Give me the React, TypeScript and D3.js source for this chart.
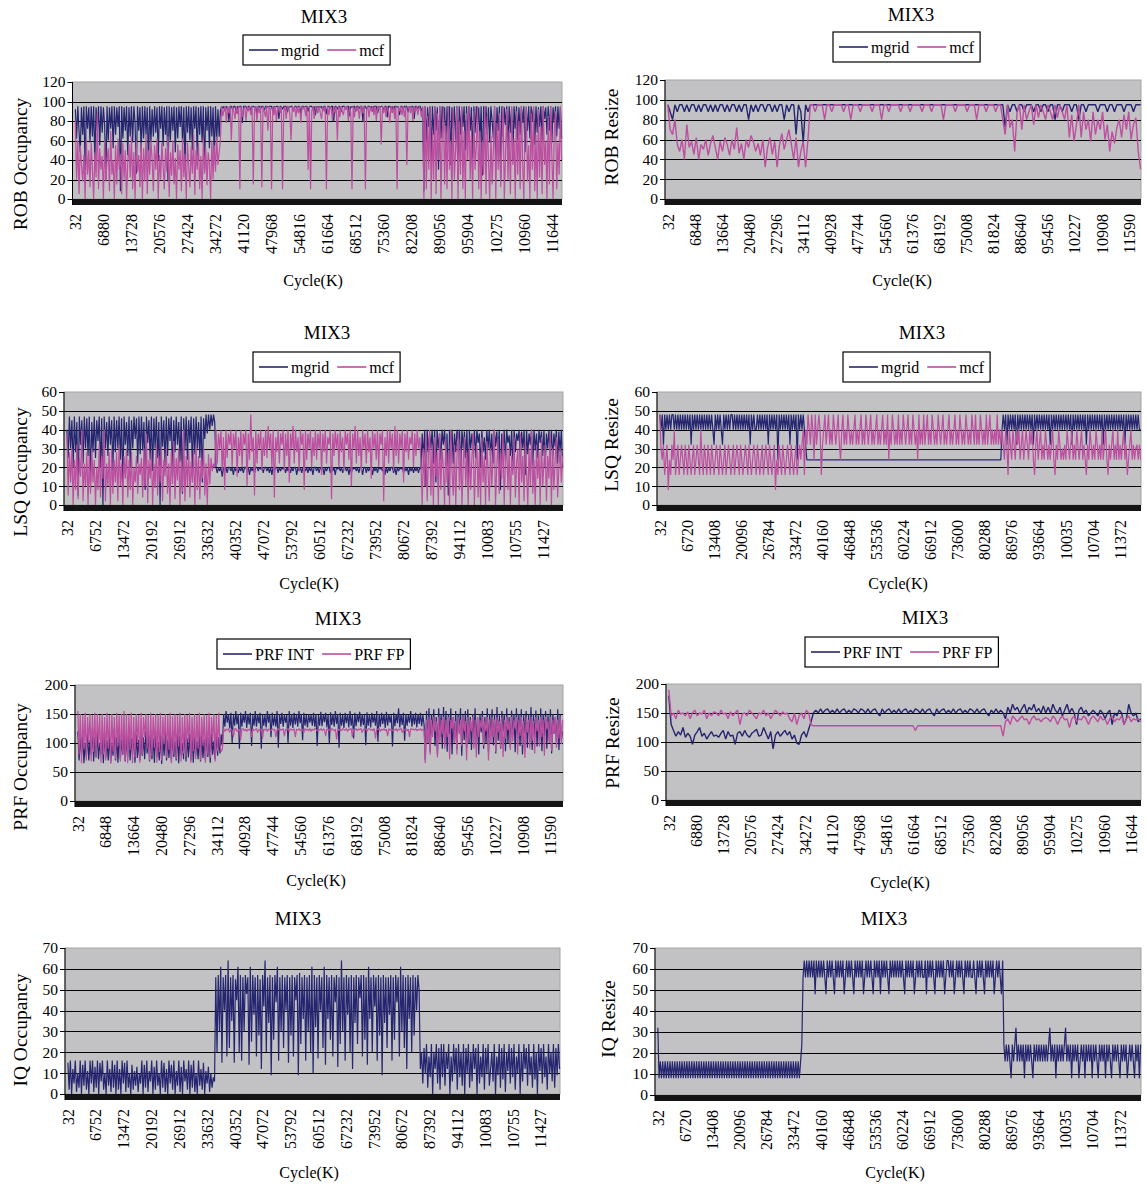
import * as d3 from "d3";
import React, { useEffect, useRef } from "react";

// x tick label sets (Excel truncates six digit cycle counts to 5 chars)
const ticksA = ["32", "6880", "13728", "20576", "27424", "34272", "41120", "47968", "54816", "61664", "68512", "75360", "82208", "89056", "95904", "10275", "10960", "11644"];
const ticksB = ["32", "6848", "13664", "20480", "27296", "34112", "40928", "47744", "54560", "61376", "68192", "75008", "81824", "88640", "95456", "10227", "10908", "11590"];
const ticksC = ["32", "6752", "13472", "20192", "26912", "33632", "40352", "47072", "53792", "60512", "67232", "73952", "80672", "87392", "94112", "10083", "10755", "11427"];
const ticksD = ["32", "6720", "13408", "20096", "26784", "33472", "40160", "46848", "53536", "60224", "66912", "73600", "80288", "86976", "93664", "10035", "10704", "11372"];

// samples are evenly spread over the whole run (cycles, K)
const TOTAL_CYCLES = 118800;

const robOccMgrid = [
  92, 62, 95, 70, 48, 94, 66, 95, 30, 95, 72, 94, 58, 95, 64, 95, 40, 94, 70, 95,
  55, 95, 68, 94, 76, 20, 95, 60, 94, 72, 95, 52, 95, 66, 94, 74, 95, 8, 95, 62,
  94, 70, 95, 45, 94, 64, 95, 58, 95, 78, 26, 95, 70, 94, 48, 95, 62, 95, 66, 94,
  36, 95, 58, 92, 64, 95, 68, 94, 40, 95, 72, 95, 54, 94, 66, 95, 18, 95, 60, 94,
  70, 95, 48, 94, 62, 95, 74, 95, 56, 94, 34, 95, 68, 95, 60, 94, 50, 95, 72, 95,
  44, 94, 66, 95, 58, 95, 30, 94, 70, 95, 52, 95, 64, 94, 42, 95, 60, 92, 64, 90,
  95, 93, 95, 90, 95, 94, 80, 95, 95, 92, 95, 95, 88, 95, 94, 95, 95, 78, 95, 95,
  95, 92, 95, 95, 90, 95, 95, 94, 95, 86, 95, 95, 93, 95, 95, 91, 95, 95, 94, 95,
  95, 95, 90, 95, 94, 95, 95, 82, 95, 95, 92, 95, 95, 95, 89, 95, 94, 95, 95, 90,
  95, 95, 93, 95, 95, 88, 95, 95, 94, 95, 95, 90, 95, 95, 95, 92, 95, 86, 95, 94,
  95, 94, 95, 91, 95, 95, 87, 95, 95, 93, 95, 95, 80, 95, 95, 92, 95, 95, 89, 95,
  95, 95, 92, 95, 95, 85, 95, 94, 95, 95, 90, 95, 95, 93, 95, 95, 79, 95, 95, 92,
  95, 95, 94, 95, 90, 95, 95, 95, 88, 95, 94, 95, 95, 91, 95, 95, 84, 95, 95, 93,
  95, 90, 95, 95, 94, 95, 86, 95, 95, 92, 95, 95, 95, 89, 95, 94, 95, 95, 82, 95,
  95, 93, 95, 95, 90, 94, 8, 95, 60, 94, 74, 95, 40, 95, 66, 95, 70, 94, 30, 95,
  62, 95, 78, 94, 55, 95, 68, 95, 35, 94, 72, 95, 60, 95, 18, 95, 66, 94, 74, 95,
  50, 95, 64, 95, 70, 94, 42, 95, 68, 95, 76, 94, 60, 95, 24, 95, 72, 95, 66, 94,
  58, 95, 80, 62, 95, 45, 94, 70, 95, 20, 95, 64, 94, 76, 95, 52, 95, 68, 94, 40,
  95, 72, 95, 60, 94, 66, 95, 78, 95, 48, 94, 70, 95, 62, 95, 80, 94, 56, 95, 68,
  94, 74, 95, 60, 95, 82, 94, 66, 95, 70, 95, 58, 94, 78, 95, 64, 95, 72, 94, 62,
];
const robOccMcf = [
  80, 20, 60, 5, 55, 35, 18, 45, 0, 62, 25, 50, 12, 58, 30, 0, 48, 22, 88, 10,
  52, 30, 44, 0, 60, 18, 40, 52, 8, 70, 25, 40, 0, 55, 15, 62, 30, 46, 5, 58,
  20, 50, 0, 38, 56, 22, 64, 10, 48, 0, 60, 28, 45, 12, 58, 0, 52, 18, 66, 5,
  50, 25, 60, 40, 8, 55, 30, 62, 0, 45, 20, 58, 35, 10, 52, 28, 64, 2, 48, 24,
  60, 15, 42, 0, 56, 30, 50, 8, 62, 22, 46, 0, 58, 34, 12, 54, 26, 66, 4, 50,
  30, 58, 10, 44, 0, 62, 26, 52, 14, 48, 36, 0, 60, 20, 55, 28, 64, 35, 48, 60,
  95, 85, 92, 95, 78, 95, 88, 95, 60, 95, 90, 82, 95, 87, 95, 10, 95, 84, 92, 95,
  80, 95, 90, 95, 86, 95, 15, 92, 95, 80, 95, 88, 95, 12, 95, 90, 84, 95, 70, 95,
  92, 10, 95, 86, 95, 80, 94, 95, 88, 95, 10, 90, 95, 82, 95, 95, 87, 60, 95, 90,
  95, 84, 95, 88, 95, 78, 95, 92, 95, 85, 95, 30, 95, 10, 90, 95, 82, 95, 94, 88,
  95, 88, 82, 95, 90, 95, 10, 95, 86, 95, 92, 80, 95, 88, 95, 60, 95, 84, 95, 90,
  86, 95, 92, 95, 80, 95, 88, 10, 95, 84, 95, 90, 95, 82, 95, 95, 88, 95, 10, 92,
  95, 84, 95, 90, 95, 86, 95, 80, 95, 92, 95, 56, 95, 88, 95, 84, 95, 90, 78, 95,
  88, 95, 82, 95, 10, 95, 90, 95, 86, 95, 84, 95, 35, 92, 95, 88, 95, 80, 95, 90,
  95, 86, 95, 92, 84, 95, 0, 95, 10, 85, 30, 95, 0, 70, 20, 95, 5, 88, 40, 95,
  0, 60, 95, 15, 75, 10, 95, 30, 60, 0, 92, 20, 50, 95, 0, 80, 25, 95, 10, 70,
  0, 88, 40, 95, 20, 65, 0, 90, 30, 55, 95, 10, 70, 0, 60, 25, 95, 5, 85, 40,
  0, 65, 15, 50, 95, 0, 78, 30, 88, 12, 60, 95, 0, 45, 92, 20, 70, 5, 95, 35,
  62, 0, 90, 25, 80, 10, 95, 40, 0, 72, 95, 18, 55, 0, 88, 30, 95, 8, 66, 0,
  92, 22, 75, 5, 95, 35, 60, 0, 85, 15, 95, 45, 0, 70, 90, 10, 58, 25, 95, 40,
];

const robResizeMgrid = [
  95, 88, 80, 95, 88, 95, 95, 88, 95, 88, 95, 95, 88, 95, 88, 95, 95, 88, 95, 88,
  95, 88, 95, 95, 88, 95, 88, 95, 95, 88, 95, 88, 95, 95, 80, 95, 88, 95, 88, 95,
  95, 88, 95, 95, 88, 95, 88, 95, 95, 80, 95, 88, 95, 95, 65, 95, 88, 57, 95, 88,
  95, 95, 95, 95, 95, 95, 95, 95, 95, 95, 95, 95, 95, 95, 95, 95, 95, 95, 95, 95,
  95, 95, 95, 95, 95, 95, 95, 95, 95, 95, 95, 95, 95, 95, 95, 95, 95, 95, 95, 95,
  95, 95, 95, 95, 95, 95, 95, 95, 95, 95, 95, 95, 95, 95, 95, 95, 95, 95, 95, 95,
  95, 95, 95, 95, 95, 95, 95, 95, 95, 95, 95, 95, 95, 95, 95, 95, 95, 95, 95, 95,
  95, 95, 72, 95, 88, 95, 95, 88, 95, 95, 88, 95, 95, 95, 88, 95, 95, 88, 95, 95,
  88, 95, 95, 80, 95, 95, 88, 95, 95, 95, 88, 95, 95, 80, 95, 95, 88, 95, 95, 95,
  95, 88, 95, 95, 95, 88, 95, 95, 88, 95, 95, 95, 88, 95, 95, 95, 88, 95, 95, 95,
];
const robResizeMcf = [
  95, 70, 65, 80, 55, 48, 60, 40, 75, 52, 58, 45, 62, 40, 55, 50, 60, 44, 56, 64,
  52, 40, 58, 48, 62, 55, 44, 60, 50, 72, 46, 56, 40, 60, 52, 64, 58, 48, 56, 44,
  60, 32, 52, 62, 45, 58, 32, 54, 66, 50, 60, 70, 55, 40, 62, 32, 48, 58, 32, 60,
  95, 95, 88, 95, 95, 95, 80, 95, 95, 88, 95, 95, 95, 95, 88, 95, 95, 80, 95, 95,
  95, 88, 95, 95, 95, 95, 88, 95, 95, 95, 80, 95, 95, 88, 95, 95, 95, 95, 88, 95,
  95, 95, 88, 95, 95, 95, 95, 88, 95, 95, 95, 88, 95, 95, 95, 95, 80, 95, 95, 95,
  95, 88, 95, 95, 95, 95, 88, 95, 95, 95, 80, 95, 95, 95, 88, 95, 95, 95, 88, 95,
  95, 80, 65, 95, 72, 80, 48, 88, 95, 70, 95, 80, 88, 95, 75, 95, 82, 95, 88, 80,
  95, 88, 80, 95, 82, 95, 88, 80, 95, 62, 85, 58, 75, 95, 62, 88, 70, 80, 58, 88,
  65, 80, 70, 88, 60, 75, 48, 68, 56, 72, 80, 62, 85, 70, 88, 60, 75, 82, 48, 30,
];

const lsqOccMgrid = [
  40, 25, 47, 30, 45, 20, 47, 28, 44, 5, 47, 32, 45, 22, 47, 30, 46, 26, 47, 12,
  44, 28, 47, 25, 45, 34, 47, 20, 46, 0, 47, 30, 44, 26, 47, 32, 45, 18, 47, 28,
  45, 30, 47, 24, 46, 10, 47, 32, 44, 26, 47, 20, 45, 30, 47, 35, 46, 22, 47, 27,
  47, 29, 44, 8, 47, 33, 45, 24, 47, 18, 46, 30, 47, 25, 44, 0, 47, 31, 45, 21,
  47, 26, 46, 34, 47, 15, 45, 28, 47, 32, 44, 23, 47, 6, 46, 29, 47, 24, 45, 33,
  47, 19, 46, 27, 47, 30, 44, 25, 47, 12, 46, 35, 48, 38, 48, 40, 48, 42, 48, 44,
  20, 17, 20, 18, 20, 15, 20, 18, 20, 17, 20, 20, 18, 20, 16, 20, 18, 20, 17, 20,
  18, 20, 17, 20, 20, 18, 20, 16, 20, 18, 20, 17, 20, 20, 18, 20, 19, 20, 17, 20,
  20, 18, 20, 17, 20, 16, 20, 18, 20, 20, 17, 20, 18, 20, 19, 20, 17, 20, 18, 20,
  17, 20, 18, 20, 20, 16, 20, 18, 20, 17, 20, 20, 18, 20, 17, 20, 18, 20, 16, 20,
  20, 18, 20, 17, 20, 19, 20, 16, 20, 18, 20, 20, 17, 20, 18, 20, 16, 20, 19, 20,
  18, 20, 17, 20, 20, 18, 20, 16, 20, 17, 20, 19, 20, 18, 20, 17, 20, 20, 16, 20,
  20, 17, 20, 18, 20, 20, 16, 20, 18, 20, 17, 20, 19, 20, 18, 20, 16, 20, 17, 20,
  18, 20, 20, 17, 20, 16, 20, 18, 20, 19, 20, 17, 20, 18, 20, 16, 20, 18, 20, 17,
  20, 18, 20, 17, 20, 19, 38, 25, 40, 10, 40, 28, 38, 30, 40, 22, 40, 12, 40, 30,
  38, 24, 40, 32, 40, 26, 38, 5, 40, 30, 40, 22, 38, 28, 40, 34, 40, 18, 40, 30,
  39, 25, 40, 12, 40, 30, 38, 28, 40, 25, 40, 33, 38, 20, 40, 28, 36, 24, 40, 30,
  40, 26, 38, 22, 40, 31, 39, 27, 40, 8, 38, 29, 40, 23, 40, 33, 37, 26, 40, 19,
  40, 28, 38, 34, 40, 24, 39, 30, 40, 16, 40, 27, 38, 32, 40, 21, 40, 29, 38, 25,
  40, 33, 39, 26, 40, 20, 38, 30, 40, 27, 40, 24, 38, 31, 40, 22, 39, 28, 40, 20,
];
const lsqOccMcf = [
  38, 5, 28, 12, 30, 0, 24, 8, 32, 3, 25, 15, 40, 2, 22, 10, 28, 0, 26, 6,
  30, 12, 24, 0, 20, 8, 32, 4, 26, 14, 40, 2, 22, 10, 28, 0, 30, 6, 24, 12,
  28, 2, 32, 10, 22, 0, 26, 14, 30, 4, 24, 8, 28, 0, 20, 12, 26, 6, 22, 16,
  25, 4, 30, 10, 38, 1, 24, 14, 28, 0, 22, 9, 32, 5, 26, 12, 30, 2, 24, 15,
  30, 6, 22, 0, 28, 11, 34, 3, 25, 13, 30, 0, 24, 7, 40, 2, 26, 10, 29, 4,
  23, 12, 28, 0, 32, 8, 26, 3, 24, 14, 30, 5, 22, 0, 27, 11, 25, 18, 22, 20,
  40, 22, 38, 30, 40, 18, 36, 8, 40, 25, 38, 32, 40, 20, 38, 30, 40, 15, 36, 26,
  40, 20, 38, 32, 40, 10, 38, 24, 48, 28, 36, 5, 40, 22, 38, 30, 40, 18, 36, 26,
  40, 25, 42, 30, 38, 20, 40, 4, 36, 28, 40, 22, 38, 32, 40, 18, 38, 26, 40, 12,
  38, 30, 42, 22, 40, 28, 36, 18, 40, 32, 38, 8, 40, 24, 38, 30, 40, 20, 36, 26,
  40, 24, 38, 30, 40, 16, 38, 28, 40, 22, 36, 32, 40, 3, 38, 26, 40, 30, 38, 20,
  40, 28, 36, 18, 40, 32, 38, 24, 40, 10, 38, 30, 42, 22, 40, 26, 36, 18, 40, 30,
  38, 22, 40, 28, 36, 14, 40, 30, 38, 24, 40, 20, 38, 32, 40, 2, 36, 26, 40, 22,
  40, 30, 38, 18, 42, 26, 40, 22, 38, 30, 40, 12, 38, 28, 40, 24, 36, 32, 40, 20,
  38, 26, 40, 30, 36, 22, 0, 30, 10, 38, 2, 25, 40, 5, 32, 0, 36, 15, 28, 0,
  38, 8, 30, 20, 0, 35, 12, 28, 0, 40, 18, 5, 32, 0, 26, 38, 8, 30, 0, 22,
  36, 10, 28, 0, 30, 8, 25, 38, 0, 22, 32, 4, 28, 0, 36, 12, 26, 0, 34, 18,
  2, 30, 10, 24, 40, 0, 20, 35, 6, 28, 14, 38, 0, 24, 32, 8, 30, 0, 26, 16,
  36, 4, 22, 30, 0, 38, 12, 26, 2, 34, 18, 0, 30, 10, 40, 6, 24, 0, 32, 14,
  28, 0, 36, 10, 22, 32, 2, 26, 14, 38, 0, 30, 8, 24, 36, 4, 20, 30, 12, 26,
];

const lsqResizeMgrid = [
  48, 40, 48, 32, 48, 40, 48, 40, 48, 40, 48, 48, 40, 48, 40, 48, 40, 48, 40, 48,
  40, 48, 40, 48, 40, 48, 32, 48, 40, 48, 40, 48, 40, 48, 40, 48, 40, 48, 40, 48,
  40, 48, 40, 48, 40, 32, 48, 40, 48, 40, 48, 40, 32, 48, 40, 48, 40, 48, 40, 48,
  48, 40, 48, 40, 48, 40, 48, 40, 48, 40, 48, 40, 48, 40, 48, 32, 48, 40, 48, 40,
  40, 48, 40, 48, 40, 48, 40, 48, 40, 48, 32, 48, 40, 48, 40, 48, 40, 48, 24, 48,
  40, 48, 40, 48, 40, 48, 40, 48, 32, 48, 40, 48, 40, 48, 24, 48, 40, 48, 40, 48,
  40, 32, 24, 24, 24, 24, 24, 24, 24, 24, 24, 24, 24, 24, 24, 24, 24, 24, 24, 24,
  24, 24, 24, 24, 24, 24, 24, 24, 24, 24, 24, 24, 24, 24, 24, 24, 24, 24, 24, 24,
  24, 24, 24, 24, 24, 24, 24, 24, 24, 24, 24, 24, 24, 24, 24, 24, 24, 24, 24, 24,
  24, 24, 24, 24, 24, 24, 24, 24, 24, 24, 24, 24, 24, 24, 24, 24, 24, 24, 24, 24,
  24, 24, 24, 24, 24, 24, 24, 24, 24, 24, 24, 24, 24, 24, 24, 24, 24, 24, 24, 24,
  24, 24, 24, 24, 24, 24, 24, 24, 24, 24, 24, 24, 24, 24, 24, 24, 24, 24, 24, 24,
  24, 24, 24, 24, 24, 24, 24, 24, 24, 24, 24, 24, 24, 24, 24, 24, 24, 24, 24, 24,
  24, 24, 24, 24, 24, 24, 24, 24, 24, 24, 24, 24, 24, 24, 24, 24, 24, 24, 24, 24,
  24, 24, 24, 24, 40, 48, 40, 48, 32, 48, 40, 48, 40, 48, 40, 48, 32, 48, 40, 48,
  40, 48, 40, 48, 40, 48, 40, 48, 40, 48, 32, 48, 40, 48, 40, 48, 40, 48, 40, 48,
  40, 48, 40, 48, 32, 48, 40, 48, 40, 48, 40, 48, 40, 48, 40, 48, 40, 48, 40, 48,
  40, 48, 32, 48, 40, 48, 40, 48, 40, 48, 40, 48, 40, 48, 32, 48, 40, 48, 40, 48,
  40, 48, 40, 48, 40, 48, 40, 48, 32, 48, 40, 48, 40, 48, 40, 48, 40, 48, 40, 48,
  40, 48, 40, 48, 40, 48, 32, 48, 40, 48, 40, 48, 40, 48, 40, 48, 40, 48, 40, 40,
];
const lsqResizeMcf = [
  48, 30, 24, 32, 16, 24, 32, 8, 24, 16, 32, 24, 40, 16, 24, 32, 16, 24, 32, 24,
  16, 32, 24, 16, 32, 24, 16, 24, 32, 16, 24, 32, 24, 16, 40, 24, 16, 32, 24, 16,
  32, 24, 16, 32, 24, 16, 24, 32, 24, 16, 32, 24, 16, 24, 32, 16, 24, 32, 24, 16,
  24, 32, 16, 24, 32, 24, 16, 32, 24, 16, 24, 32, 24, 16, 32, 24, 16, 24, 32, 24,
  16, 32, 24, 16, 24, 32, 16, 24, 32, 24, 16, 32, 24, 16, 24, 32, 8, 24, 16, 32,
  24, 16, 32, 24, 16, 24, 32, 24, 16, 32, 24, 16, 24, 32, 16, 24, 32, 24, 32, 40,
  16, 40, 32, 48, 40, 32, 48, 40, 24, 48, 32, 40, 48, 40, 16, 32, 40, 48, 32, 40,
  48, 32, 40, 32, 48, 40, 32, 40, 48, 32, 24, 40, 48, 32, 40, 32, 48, 40, 32, 40,
  32, 40, 48, 32, 40, 32, 40, 48, 32, 40, 32, 48, 40, 32, 40, 48, 32, 40, 32, 40,
  48, 32, 40, 32, 40, 48, 32, 40, 32, 48, 24, 40, 32, 48, 40, 32, 40, 32, 48, 32,
  40, 32, 48, 40, 32, 40, 48, 32, 40, 32, 48, 40, 32, 40, 24, 48, 32, 40, 32, 48,
  32, 40, 48, 32, 40, 32, 48, 40, 32, 40, 32, 48, 40, 32, 40, 48, 32, 40, 32, 40,
  48, 32, 40, 32, 40, 48, 32, 40, 32, 48, 40, 32, 40, 32, 48, 40, 32, 40, 32, 48,
  40, 32, 48, 32, 40, 32, 48, 40, 32, 40, 32, 48, 32, 40, 48, 32, 40, 32, 40, 32,
  48, 32, 40, 32, 40, 32, 24, 40, 32, 16, 40, 32, 24, 40, 32, 24, 40, 32, 40, 24,
  32, 40, 24, 32, 40, 32, 24, 40, 32, 40, 24, 16, 32, 40, 24, 32, 40, 24, 32, 24,
  40, 32, 24, 32, 24, 32, 40, 24, 16, 32, 24, 40, 32, 24, 30, 24, 32, 24, 40, 32,
  24, 32, 40, 24, 32, 24, 40, 32, 24, 32, 40, 24, 32, 24, 16, 32, 24, 40, 32, 24,
  32, 24, 40, 32, 24, 32, 24, 40, 24, 32, 40, 24, 16, 32, 24, 32, 40, 24, 32, 24,
  40, 24, 32, 24, 32, 40, 24, 32, 16, 24, 32, 40, 24, 32, 24, 30, 32, 24, 32, 24,
];

const prfOccInt = [
  120, 70, 110, 80, 115, 65, 100, 75, 120, 70, 105, 80, 125, 68, 110, 75, 118, 72, 100, 80,
  110, 65, 120, 75, 105, 70, 115, 65, 100, 78, 125, 70, 110, 66, 118, 72, 105, 80, 120, 68,
  112, 75, 130, 70, 108, 80, 120, 66, 115, 74, 105, 70, 118, 78, 110, 72, 120, 82, 115, 68,
  118, 72, 108, 66, 122, 76, 102, 70, 116, 64, 110, 78, 124, 70, 106, 74, 114, 68, 120, 76,
  104, 70, 118, 65, 112, 80, 100, 72, 126, 68, 108, 75, 116, 70, 122, 66, 110, 78, 104, 72,
  118, 68, 112, 74, 106, 70, 120, 76, 110, 66, 116, 80, 104, 72, 118, 78, 110, 82, 115, 95,
  150, 128, 155, 135, 150, 125, 152, 100, 148, 130, 155, 132, 150, 90, 152, 128, 150, 135, 155, 126,
  150, 132, 152, 95, 148, 130, 155, 128, 150, 134, 152, 90, 150, 130, 148, 127, 155, 135, 150, 110,
  152, 130, 148, 128, 155, 92, 150, 133, 152, 128, 150, 135, 148, 100, 155, 130, 150, 126, 152, 132,
  150, 128, 155, 134, 150, 105, 152, 130, 148, 127, 150, 135, 148, 130, 152, 128, 150, 95, 148, 130,
  154, 129, 150, 136, 152, 127, 149, 98, 153, 131, 150, 128, 155, 133, 150, 92, 152, 130, 148, 126,
  152, 134, 150, 127, 155, 130, 148, 108, 152, 129, 150, 136, 154, 128, 150, 131, 149, 96, 153, 130,
  150, 127, 152, 135, 148, 130, 155, 102, 150, 128, 152, 133, 150, 126, 154, 130, 150, 135, 148, 94,
  152, 129, 150, 134, 160, 127, 150, 131, 152, 104, 150, 130, 148, 135, 155, 128, 150, 132, 152, 127,
  150, 133, 152, 129, 148, 131, 70, 155, 100, 160, 85, 150, 120, 158, 95, 145, 80, 160, 110, 150,
  90, 162, 100, 155, 85, 150, 115, 160, 80, 145, 100, 155, 90, 150, 120, 160, 78, 148, 105, 155,
  92, 158, 100, 145, 88, 150, 110, 160, 95, 145, 80, 150, 118, 155, 90, 145, 100, 160, 85, 150,
  112, 158, 96, 150, 82, 162, 104, 148, 90, 155, 120, 150, 86, 160, 100, 145, 92, 156, 114, 150,
  84, 160, 106, 150, 95, 158, 80, 148, 116, 155, 92, 150, 102, 162, 88, 150, 110, 156, 94, 148,
  100, 160, 86, 150, 112, 155, 90, 148, 104, 158, 82, 150, 116, 145, 96, 158, 88, 150, 105, 120,
];
const prfOccFp = [
  155, 80, 150, 65, 148, 90, 152, 70, 145, 100, 150, 68, 148, 85, 152, 75, 150, 95, 148, 66,
  150, 80, 145, 70, 152, 90, 148, 65, 150, 85, 145, 72, 152, 95, 148, 68, 150, 80, 155, 70,
  150, 65, 148, 88, 152, 65, 145, 75, 150, 100, 148, 66, 152, 80, 145, 110, 150, 90, 148, 70,
  152, 78, 146, 92, 150, 66, 148, 84, 152, 70, 145, 98, 150, 74, 148, 88, 152, 65, 146, 80,
  150, 72, 148, 94, 152, 68, 145, 82, 150, 76, 148, 102, 152, 66, 145, 86, 150, 72, 148, 90,
  152, 70, 145, 96, 150, 66, 148, 80, 152, 74, 145, 104, 150, 68, 148, 86, 152, 95, 85, 90,
  125, 120, 124, 122, 125, 118, 124, 122, 110, 124, 125, 120, 122, 124, 105, 124, 125, 121, 124, 120,
  124, 122, 125, 110, 124, 121, 123, 125, 118, 124, 122, 125, 108, 124, 122, 125, 120, 124, 123, 121,
  125, 122, 124, 110, 123, 125, 121, 124, 122, 125, 112, 124, 122, 125, 120, 124, 123, 122, 125, 110,
  124, 122, 125, 121, 124, 123, 118, 125, 122, 124, 121, 125, 120, 124, 122, 125, 123, 121, 124, 122,
  125, 121, 124, 123, 112, 125, 122, 124, 120, 125, 123, 121, 124, 106, 125, 122, 124, 121, 125, 123,
  122, 125, 120, 124, 123, 125, 110, 124, 122, 125, 121, 124, 123, 125, 118, 124, 122, 125, 120, 124,
  125, 122, 124, 121, 125, 108, 124, 123, 125, 120, 124, 122, 125, 121, 124, 112, 125, 122, 124, 121,
  124, 122, 125, 120, 124, 123, 125, 118, 124, 122, 125, 121, 124, 110, 125, 123, 124, 122, 125, 121,
  124, 122, 125, 121, 124, 122, 65, 140, 100, 145, 80, 140, 110, 145, 120, 138, 75, 145, 100, 140,
  115, 145, 90, 140, 110, 145, 72, 140, 125, 145, 100, 138, 80, 145, 115, 140, 95, 145, 120, 138,
  70, 145, 105, 140, 120, 145, 90, 140, 75, 145, 110, 140, 125, 145, 95, 138, 120, 145, 70, 140,
  100, 145, 110, 140, 85, 145, 118, 138, 92, 145, 76, 140, 108, 145, 122, 138, 88, 145, 102, 140,
  125, 145, 80, 140, 112, 145, 96, 138, 74, 145, 118, 140, 90, 145, 104, 138, 82, 145, 120, 140,
  94, 145, 110, 140, 78, 145, 124, 138, 100, 145, 86, 140, 116, 145, 92, 140, 108, 145, 98, 140,
];

const prfResizeInt = [
  180, 130, 120, 110, 118, 112, 125, 108, 115, 110, 96, 112, 118, 125, 110, 115, 105, 112, 118, 110,
  112, 108, 115, 120, 105, 118, 110, 112, 96, 115, 118, 110, 120, 112, 108, 115, 118, 122, 110, 112,
  125, 115, 105, 118, 88, 112, 118, 110, 115, 120, 112, 118, 105, 112, 98, 96, 112, 118, 108, 122,
  135, 150, 155, 150, 157, 150, 155, 157, 150, 155, 150, 157, 150, 155, 157, 150, 155, 150, 157, 155,
  150, 157, 155, 150, 157, 150, 155, 157, 150, 145, 157, 150, 155, 157, 150, 155, 150, 157, 150, 155,
  157, 150, 155, 150, 157, 155, 150, 157, 150, 155, 157, 150, 145, 157, 150, 155, 157, 150, 155, 150,
  157, 150, 155, 157, 150, 155, 150, 157, 155, 150, 157, 150, 155, 157, 150, 145, 155, 150, 157, 150,
  155, 150, 140, 160, 150, 165, 155, 160, 150, 158, 165, 150, 160, 155, 165, 152, 158, 150, 162, 150,
  160, 150, 165, 155, 150, 160, 145, 155, 165, 150, 158, 150, 130, 155, 160, 150, 155, 145, 150, 155,
  150, 145, 155, 150, 140, 150, 155, 130, 150, 145, 155, 150, 130, 140, 165, 150, 145, 150, 135, 140,
];
const prfResizeFp = [
  190, 145, 150, 140, 155, 148, 150, 145, 152, 140, 150, 155, 145, 150, 148, 155, 140, 150, 145, 152,
  150, 145, 155, 148, 150, 140, 152, 145, 150, 155, 130, 148, 150, 145, 155, 150, 145, 140, 150, 148,
  155, 145, 150, 140, 148, 155, 150, 145, 152, 148, 150, 140, 135, 150, 130, 145, 150, 140, 155, 150,
  130, 128, 128, 128, 128, 128, 128, 128, 128, 128, 128, 128, 128, 128, 128, 128, 128, 128, 128, 128,
  128, 128, 128, 128, 128, 128, 128, 128, 128, 128, 128, 128, 128, 128, 128, 128, 128, 128, 128, 128,
  128, 128, 128, 128, 120, 128, 128, 128, 128, 128, 128, 128, 128, 128, 128, 128, 128, 128, 128, 128,
  128, 128, 128, 128, 128, 128, 128, 128, 128, 128, 128, 128, 128, 128, 128, 128, 128, 128, 128, 128,
  128, 110, 135, 140, 130, 145, 140, 135, 140, 145, 138, 140, 130, 140, 145, 138, 140, 135, 140, 142,
  140, 135, 145, 140, 130, 140, 145, 138, 140, 125, 140, 145, 135, 140, 138, 145, 140, 130, 140, 145,
  140, 135, 145, 138, 140, 130, 140, 145, 135, 140, 138, 145, 130, 140, 145, 135, 140, 138, 140, 135,
];

const iqOcc = [
  15, 2, 16, 0, 12, 5, 16, 1, 10, 3, 16, 0, 14, 4, 16, 2, 11, 0, 16, 5,
  16, 1, 13, 3, 16, 0, 15, 6, 16, 2, 10, 0, 16, 4, 12, 1, 16, 3, 14, 0,
  16, 2, 12, 0, 16, 5, 15, 1, 16, 3, 10, 0, 14, 2, 11, 4, 13, 1, 10, 5,
  16, 0, 14, 3, 16, 1, 11, 6, 16, 0, 13, 2, 16, 4, 10, 0, 16, 3, 15, 1,
  12, 0, 16, 5, 14, 2, 16, 0, 11, 4, 16, 1, 13, 0, 16, 6, 12, 2, 16, 0,
  14, 3, 16, 1, 10, 0, 16, 4, 12, 2, 15, 0, 11, 5, 13, 1, 10, 3, 8, 6,
  56, 20, 57, 30, 61, 15, 56, 40, 57, 18, 64, 22, 56, 35, 57, 15, 55, 45, 61, 20,
  57, 16, 56, 30, 57, 48, 56, 14, 61, 25, 57, 38, 56, 18, 57, 28, 55, 12, 57, 42,
  64, 20, 56, 34, 57, 9, 56, 26, 57, 44, 61, 16, 56, 30, 57, 22, 56, 40, 57, 15,
  56, 28, 57, 18, 56, 45, 57, 9, 58, 24, 56, 36, 57, 16, 56, 30, 57, 20, 61, 10,
  57, 32, 56, 17, 57, 40, 56, 22, 61, 14, 57, 36, 56, 26, 57, 18, 56, 44, 57, 13,
  56, 24, 64, 30, 56, 16, 57, 38, 56, 20, 57, 12, 56, 34, 57, 24, 56, 46, 57, 18,
  57, 26, 56, 14, 61, 36, 56, 20, 57, 42, 56, 16, 57, 28, 56, 9, 57, 34, 56, 22,
  56, 38, 57, 16, 56, 26, 57, 44, 56, 18, 61, 30, 57, 22, 56, 12, 57, 36, 56, 20,
  57, 28, 56, 40, 57, 50, 12, 20, 5, 22, 10, 24, 3, 18, 8, 24, 0, 20, 12, 24,
  5, 22, 2, 24, 8, 24, 4, 20, 12, 24, 0, 18, 6, 24, 10, 22, 2, 24, 8, 20,
  4, 24, 0, 22, 10, 24, 3, 20, 6, 24, 12, 22, 0, 24, 5, 18, 8, 24, 2, 22,
  10, 24, 4, 12, 20, 6, 24, 0, 18, 9, 24, 3, 22, 7, 24, 1, 20, 11, 24, 5,
  22, 8, 24, 2, 18, 10, 24, 0, 20, 6, 24, 12, 22, 4, 24, 9, 18, 3, 24, 7,
  20, 0, 24, 11, 22, 5, 24, 8, 18, 2, 24, 10, 20, 6, 24, 3, 22, 9, 24, 12,
];
const iqResize = [
  32, 8, 16, 8, 16, 8, 16, 8, 16, 8, 16, 8, 16, 8, 16, 8, 16, 8, 16, 8,
  16, 8, 16, 8, 16, 8, 16, 8, 16, 8, 16, 8, 16, 8, 16, 8, 16, 8, 16, 8,
  16, 8, 16, 8, 16, 8, 16, 8, 16, 8, 16, 8, 16, 8, 16, 8, 16, 8, 16, 8,
  16, 8, 16, 8, 16, 8, 16, 8, 16, 8, 16, 8, 16, 8, 16, 8, 16, 8, 16, 8,
  16, 8, 16, 8, 16, 8, 16, 8, 16, 8, 16, 8, 16, 8, 16, 8, 16, 8, 16, 8,
  16, 8, 16, 8, 16, 8, 16, 8, 16, 8, 16, 8, 16, 8, 16, 8, 16, 8, 16, 24,
  56, 64, 56, 64, 56, 64, 56, 64, 56, 64, 48, 64, 56, 64, 56, 64, 56, 64, 56, 48,
  64, 56, 64, 56, 64, 56, 48, 64, 56, 64, 56, 64, 56, 64, 48, 56, 64, 56, 64, 56,
  64, 56, 48, 64, 56, 64, 56, 64, 56, 64, 48, 56, 64, 56, 64, 56, 64, 56, 48, 64,
  56, 64, 56, 64, 48, 64, 56, 64, 56, 64, 56, 48, 64, 56, 64, 56, 64, 56, 64, 56,
  64, 56, 64, 56, 48, 64, 56, 64, 56, 64, 56, 64, 48, 56, 64, 56, 64, 56, 64, 56,
  56, 64, 48, 64, 56, 64, 56, 64, 56, 48, 64, 56, 64, 56, 64, 56, 64, 48, 56, 64,
  64, 56, 64, 56, 64, 48, 56, 64, 56, 64, 56, 64, 56, 48, 64, 56, 64, 56, 64, 56,
  56, 64, 56, 48, 64, 56, 64, 56, 64, 56, 48, 64, 56, 64, 56, 64, 56, 64, 48, 56,
  64, 56, 64, 56, 48, 64, 24, 16, 24, 16, 24, 16, 8, 24, 16, 24, 32, 16, 24, 16,
  24, 16, 24, 8, 24, 16, 24, 16, 24, 16, 8, 24, 16, 24, 16, 24, 16, 24, 16, 24,
  16, 24, 16, 24, 32, 16, 24, 16, 24, 8, 24, 16, 24, 16, 24, 16, 24, 32, 16, 24,
  16, 24, 8, 24, 16, 24, 16, 24, 8, 16, 24, 16, 24, 8, 24, 16, 24, 16, 24, 8,
  24, 16, 24, 16, 8, 24, 16, 24, 16, 24, 8, 24, 16, 24, 16, 8, 24, 16, 24, 16,
  24, 16, 8, 24, 16, 24, 16, 24, 8, 16, 24, 16, 24, 16, 8, 24, 16, 24, 8, 24,
];

const NAVY = "#262670";
const PINK = "#bc4fa0";
const FONT = "'Liberation Serif', 'Times New Roman', serif";

const panels = [
  {
    yLabel: "ROB Occupancy", ticks: ticksA, yMax: 120, yStep: 20,
    series: [{ name: "mgrid", values: robOccMgrid, color: NAVY }, { name: "mcf", values: robOccMcf, color: PINK }],
    x0: 72.5, x1: 562, yTop: 82, yZero: 199, titleX: 324, titleY: 16,
    legend: { x: 243, y: 35 }, cycleX: 313, cycleY: 280, yLabelX: 20, yLabelY: 164,
  },
  {
    yLabel: "ROB Resize", ticks: ticksB, yMax: 120, yStep: 20,
    series: [{ name: "mgrid", values: robResizeMgrid, color: NAVY }, { name: "mcf", values: robResizeMcf, color: PINK }],
    x0: 665, x1: 1141, yTop: 80, yZero: 199, titleX: 911, titleY: 14,
    legend: { x: 833, y: 32 }, cycleX: 902, cycleY: 280, yLabelX: 611, yLabelY: 137,
  },
  {
    yLabel: "LSQ Occupancy", ticks: ticksC, yMax: 60, yStep: 10,
    series: [{ name: "mgrid", values: lsqOccMgrid, color: NAVY }, { name: "mcf", values: lsqOccMcf, color: PINK }],
    x0: 64, x1: 563, yTop: 392, yZero: 505, titleX: 327, titleY: 332,
    legend: { x: 253, y: 352 }, cycleX: 309, cycleY: 583, yLabelX: 20, yLabelY: 472,
  },
  {
    yLabel: "LSQ Resize", ticks: ticksD, yMax: 60, yStep: 10,
    series: [{ name: "mgrid", values: lsqResizeMgrid, color: NAVY }, { name: "mcf", values: lsqResizeMcf, color: PINK }],
    x0: 657, x1: 1141, yTop: 392, yZero: 505, titleX: 922, titleY: 332,
    legend: { x: 843, y: 352 }, cycleX: 898, cycleY: 583, yLabelX: 611, yLabelY: 445,
  },
  {
    yLabel: "PRF Occupancy", ticks: ticksB, yMax: 200, yStep: 50,
    series: [{ name: "PRF INT", values: prfOccInt, color: NAVY }, { name: "PRF FP", values: prfOccFp, color: PINK }],
    x0: 75, x1: 563, yTop: 685, yZero: 801, titleX: 338, titleY: 618,
    legend: { x: 217, y: 639 }, cycleX: 316, cycleY: 880, yLabelX: 20, yLabelY: 767,
  },
  {
    yLabel: "PRF Resize", ticks: ticksA, yMax: 200, yStep: 50,
    series: [{ name: "PRF INT", values: prfResizeInt, color: NAVY }, { name: "PRF FP", values: prfResizeFp, color: PINK }],
    x0: 666, x1: 1141, yTop: 684, yZero: 800, titleX: 925, titleY: 617,
    legend: { x: 805, y: 637 }, cycleX: 900, cycleY: 882, yLabelX: 612, yLabelY: 743,
  },
  {
    yLabel: "IQ Occupancy", ticks: ticksC, yMax: 70, yStep: 10,
    series: [{ name: "IQ", values: iqOcc, color: NAVY }],
    x0: 65, x1: 560, yTop: 948, yZero: 1094, titleX: 298, titleY: 918,
    legend: null, cycleX: 309, cycleY: 1172, yLabelX: 20, yLabelY: 1030,
  },
  {
    yLabel: "IQ Resize", ticks: ticksD, yMax: 70, yStep: 10,
    series: [{ name: "IQ", values: iqResize, color: NAVY }],
    x0: 655, x1: 1141, yTop: 948, yZero: 1095, titleX: 884, titleY: 918,
    legend: null, cycleX: 895, cycleY: 1172, yLabelX: 608, yLabelY: 1019,
  },
];

type Panel = (typeof panels)[number];

const drawPanel = (svg: d3.Selection<SVGSVGElement, unknown, null, undefined>, p: Panel) => {
  const g = svg.append("g");

  // Scales: x runs over cycles, slightly padded before the first sample
  const xScale = d3.scaleLinear().domain([-700, 118900]).range([p.x0, p.x1]);
  const yScale = d3.scaleLinear().domain([0, p.yMax]).range([p.yZero, p.yTop]);

  // Plot area
  g.append("rect")
    .attr("x", p.x0)
    .attr("y", p.yTop)
    .attr("width", p.x1 - p.x0)
    .attr("height", p.yZero - p.yTop)
    .attr("fill", "#c2c2c4")
    .attr("stroke", "#a4a4a4")
    .attr("stroke-width", 1);

  // Grid lines
  const yTicks = d3.range(0, p.yMax + 0.001, p.yStep);
  g.selectAll(".grid")
    .data(yTicks.filter((t) => t > 0 && t < p.yMax))
    .join("line")
    .attr("x1", p.x0)
    .attr("x2", p.x1)
    .attr("y1", (d) => Math.round(yScale(d)) + 0.5)
    .attr("y2", (d) => Math.round(yScale(d)) + 0.5)
    .attr("stroke", "#000")
    .attr("stroke-width", 1);

  // Series
  const line = d3
    .line<number>()
    .x((d, i, arr) => xScale((i * TOTAL_CYCLES) / (arr.length - 1)))
    .y((d) => yScale(d));

  p.series.forEach((s) => {
    g.append("path")
      .datum(s.values)
      .attr("d", line)
      .attr("fill", "none")
      .attr("stroke", s.color)
      .attr("stroke-width", s.values.length > 300 ? 1.2 : 1.4)
      .attr("stroke-linejoin", "bevel");
  });

  // Thick floor under the x axis
  g.append("rect")
    .attr("x", p.x0)
    .attr("y", p.yZero)
    .attr("width", p.x1 - p.x0)
    .attr("height", 6)
    .attr("fill", "#141414");

  // Y axis
  g.append("line")
    .attr("x1", p.x0).attr("x2", p.x0)
    .attr("y1", p.yTop).attr("y2", p.yZero + 6)
    .attr("stroke", "#000");
  g.selectAll(".ytick")
    .data(yTicks)
    .join("line")
    .attr("x1", p.x0 - 5)
    .attr("x2", p.x0)
    .attr("y1", (d) => Math.round(yScale(d)) + 0.5)
    .attr("y2", (d) => Math.round(yScale(d)) + 0.5)
    .attr("stroke", "#000");
  g.selectAll(".ylab")
    .data(yTicks)
    .join("text")
    .attr("x", p.x0 - 7)
    .attr("y", (d) => yScale(d))
    .attr("dy", "0.35em")
    .attr("text-anchor", "end")
    .style("font-family", FONT)
    .style("font-size", "15.5px")
    .text((d) => `${d}`);

  // X tick labels, rotated; cycle position comes from the label step
  const step = +p.ticks[1] - +p.ticks[0];
  g.selectAll(".xlab")
    .data(p.ticks)
    .join("text")
    .attr("transform", (d, k) => `translate(${xScale(+p.ticks[0] + k * step)}, ${p.yZero + 15}) rotate(-90)`)
    .attr("dy", "0.35em")
    .attr("text-anchor", "end")
    .style("font-family", FONT)
    .style("font-size", "16px")
    .text((d) => d);

  // Titles
  g.append("text")
    .attr("x", p.titleX)
    .attr("y", p.titleY)
    .attr("dy", "0.35em")
    .attr("text-anchor", "middle")
    .style("font-family", FONT)
    .style("font-size", "19px")
    .text("MIX3");

  g.append("text")
    .attr("x", p.cycleX)
    .attr("y", p.cycleY)
    .attr("dy", "0.35em")
    .attr("text-anchor", "middle")
    .style("font-family", FONT)
    .style("font-size", "16px")
    .text("Cycle(K)");

  g.append("text")
    .attr("transform", `translate(${p.yLabelX}, ${p.yLabelY}) rotate(-90)`)
    .attr("dy", "0.35em")
    .attr("text-anchor", "middle")
    .style("font-family", FONT)
    .style("font-size", "19.5px")
    .text(p.yLabel);

  // Legend
  if (p.legend) {
    const lg = g.append("g");
    const box = lg.append("rect")
      .attr("x", p.legend.x)
      .attr("y", p.legend.y)
      .attr("height", 30)
      .attr("fill", "#fff")
      .attr("stroke", "#000")
      .attr("stroke-width", 1.2);
    const cy = p.legend.y + 15;
    let cx = p.legend.x + 6;
    p.series.forEach((s) => {
      lg.append("line")
        .attr("x1", cx).attr("x2", cx + 29)
        .attr("y1", cy).attr("y2", cy)
        .attr("stroke", s.color)
        .attr("stroke-width", 1.6);
      const t = lg.append("text")
        .attr("x", cx + 32)
        .attr("y", cy)
        .attr("dy", "0.35em")
        .style("font-family", FONT)
        .style("font-size", "16px")
        .text(s.name);
      const w = (t.node() as SVGTextElement).getComputedTextLength();
      cx += 32 + w + 8;
    });
    box.attr("width", cx - 8 + 6 - p.legend.x);
  }
};

const App = () => {
  const ref = useRef<SVGSVGElement>(null);

  useEffect(() => {
    const svg = d3.select(ref.current as SVGSVGElement);
    svg.selectAll("*").remove();
    panels.forEach((p) => drawPanel(svg, p));
  }, []);

  return (
    <svg
      ref={ref}
      width={1147}
      height={1184}
      style={{ position: "absolute", left: 0, top: 0, background: "#fff" }}
    />
  );
};

export default App;
